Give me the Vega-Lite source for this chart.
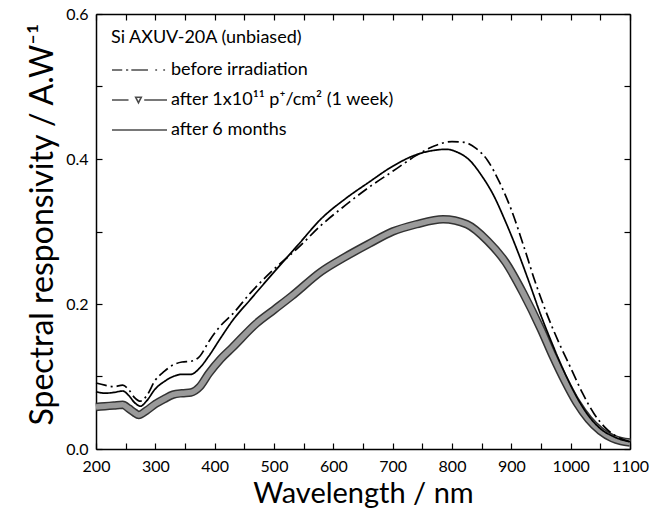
{
  "$schema": "https://vega.github.io/schema/vega-lite/v6.json",
  "width": 534,
  "height": 435,
  "autosize": {"type": "none"},
  "padding": {"left": 96, "top": 14, "right": 22, "bottom": 65},
  "background": "white",
  "config": {
    "view": {"stroke": null},
    "font": "Lato",
    "axis": {"grid": false, "domainColor": "black", "domainWidth": 1.5, "tickColor": "black", "tickWidth": 1.2, "labelColor": "black", "titleColor": "black", "labelFont": "Lato", "titleFont": "Lato", "titleFontWeight": "normal", "labelFlush": false, "labelOverlap": false}
  },
  "datasets": {
    "curves": [
      {"s": "before", "nm": 200, "r": 0.091}, {"s": "before", "nm": 215, "r": 0.088}, {"s": "before", "nm": 230, "r": 0.086}, {"s": "before", "nm": 245, "r": 0.088}, {"s": "before", "nm": 255, "r": 0.082}, {"s": "before", "nm": 265, "r": 0.071}, {"s": "before", "nm": 275, "r": 0.066}, {"s": "before", "nm": 285, "r": 0.073}, {"s": "before", "nm": 300, "r": 0.095}, {"s": "before", "nm": 315, "r": 0.107}, {"s": "before", "nm": 330, "r": 0.116}, {"s": "before", "nm": 345, "r": 0.120}, {"s": "before", "nm": 360, "r": 0.121}, {"s": "before", "nm": 375, "r": 0.128}, {"s": "before", "nm": 390, "r": 0.148}, {"s": "before", "nm": 410, "r": 0.170}, {"s": "before", "nm": 430, "r": 0.186}, {"s": "before", "nm": 460, "r": 0.215}, {"s": "before", "nm": 500, "r": 0.248}, {"s": "before", "nm": 540, "r": 0.277}, {"s": "before", "nm": 580, "r": 0.309}, {"s": "before", "nm": 620, "r": 0.336}, {"s": "before", "nm": 660, "r": 0.361}, {"s": "before", "nm": 700, "r": 0.383}, {"s": "before", "nm": 740, "r": 0.405}, {"s": "before", "nm": 770, "r": 0.418}, {"s": "before", "nm": 800, "r": 0.424}, {"s": "before", "nm": 820, "r": 0.423}, {"s": "before", "nm": 840, "r": 0.415}, {"s": "before", "nm": 860, "r": 0.398}, {"s": "before", "nm": 880, "r": 0.368}, {"s": "before", "nm": 900, "r": 0.330}, {"s": "before", "nm": 920, "r": 0.282}, {"s": "before", "nm": 940, "r": 0.231}, {"s": "before", "nm": 960, "r": 0.186}, {"s": "before", "nm": 980, "r": 0.147}, {"s": "before", "nm": 1000, "r": 0.112}, {"s": "before", "nm": 1020, "r": 0.077}, {"s": "before", "nm": 1040, "r": 0.048}, {"s": "before", "nm": 1060, "r": 0.028}, {"s": "before", "nm": 1080, "r": 0.016}, {"s": "before", "nm": 1100, "r": 0.010},
      {"s": "1w", "nm": 200, "r": 0.058}, {"s": "1w", "nm": 215, "r": 0.059}, {"s": "1w", "nm": 230, "r": 0.060}, {"s": "1w", "nm": 245, "r": 0.061}, {"s": "1w", "nm": 255, "r": 0.056}, {"s": "1w", "nm": 265, "r": 0.050}, {"s": "1w", "nm": 272, "r": 0.047}, {"s": "1w", "nm": 285, "r": 0.053}, {"s": "1w", "nm": 300, "r": 0.062}, {"s": "1w", "nm": 315, "r": 0.069}, {"s": "1w", "nm": 330, "r": 0.075}, {"s": "1w", "nm": 345, "r": 0.077}, {"s": "1w", "nm": 360, "r": 0.078}, {"s": "1w", "nm": 375, "r": 0.086}, {"s": "1w", "nm": 390, "r": 0.104}, {"s": "1w", "nm": 410, "r": 0.124}, {"s": "1w", "nm": 430, "r": 0.140}, {"s": "1w", "nm": 470, "r": 0.173}, {"s": "1w", "nm": 500, "r": 0.192}, {"s": "1w", "nm": 530, "r": 0.211}, {"s": "1w", "nm": 580, "r": 0.245}, {"s": "1w", "nm": 620, "r": 0.265}, {"s": "1w", "nm": 660, "r": 0.283}, {"s": "1w", "nm": 700, "r": 0.300}, {"s": "1w", "nm": 740, "r": 0.310}, {"s": "1w", "nm": 785, "r": 0.317}, {"s": "1w", "nm": 825, "r": 0.310}, {"s": "1w", "nm": 860, "r": 0.287}, {"s": "1w", "nm": 890, "r": 0.258}, {"s": "1w", "nm": 920, "r": 0.215}, {"s": "1w", "nm": 950, "r": 0.165}, {"s": "1w", "nm": 970, "r": 0.128}, {"s": "1w", "nm": 990, "r": 0.094}, {"s": "1w", "nm": 1010, "r": 0.064}, {"s": "1w", "nm": 1030, "r": 0.041}, {"s": "1w", "nm": 1050, "r": 0.025}, {"s": "1w", "nm": 1070, "r": 0.015}, {"s": "1w", "nm": 1085, "r": 0.011}, {"s": "1w", "nm": 1100, "r": 0.009},
      {"s": "6m", "nm": 200, "r": 0.079}, {"s": "6m", "nm": 215, "r": 0.077}, {"s": "6m", "nm": 230, "r": 0.078}, {"s": "6m", "nm": 245, "r": 0.080}, {"s": "6m", "nm": 255, "r": 0.074}, {"s": "6m", "nm": 265, "r": 0.064}, {"s": "6m", "nm": 275, "r": 0.059}, {"s": "6m", "nm": 285, "r": 0.066}, {"s": "6m", "nm": 300, "r": 0.083}, {"s": "6m", "nm": 315, "r": 0.093}, {"s": "6m", "nm": 330, "r": 0.100}, {"s": "6m", "nm": 345, "r": 0.103}, {"s": "6m", "nm": 360, "r": 0.103}, {"s": "6m", "nm": 375, "r": 0.112}, {"s": "6m", "nm": 390, "r": 0.128}, {"s": "6m", "nm": 410, "r": 0.153}, {"s": "6m", "nm": 430, "r": 0.177}, {"s": "6m", "nm": 460, "r": 0.206}, {"s": "6m", "nm": 500, "r": 0.244}, {"s": "6m", "nm": 540, "r": 0.281}, {"s": "6m", "nm": 580, "r": 0.318}, {"s": "6m", "nm": 620, "r": 0.345}, {"s": "6m", "nm": 660, "r": 0.368}, {"s": "6m", "nm": 700, "r": 0.390}, {"s": "6m", "nm": 740, "r": 0.406}, {"s": "6m", "nm": 770, "r": 0.412}, {"s": "6m", "nm": 790, "r": 0.4134}, {"s": "6m", "nm": 810, "r": 0.409}, {"s": "6m", "nm": 830, "r": 0.398}, {"s": "6m", "nm": 850, "r": 0.377}, {"s": "6m", "nm": 870, "r": 0.350}, {"s": "6m", "nm": 890, "r": 0.314}, {"s": "6m", "nm": 910, "r": 0.274}, {"s": "6m", "nm": 930, "r": 0.230}, {"s": "6m", "nm": 950, "r": 0.184}, {"s": "6m", "nm": 970, "r": 0.143}, {"s": "6m", "nm": 990, "r": 0.105}, {"s": "6m", "nm": 1010, "r": 0.072}, {"s": "6m", "nm": 1030, "r": 0.046}, {"s": "6m", "nm": 1050, "r": 0.028}, {"s": "6m", "nm": 1070, "r": 0.018}, {"s": "6m", "nm": 1085, "r": 0.013}, {"s": "6m", "nm": 1100, "r": 0.010}
    ]
  },
  "data": {"name": "curves"},
  "resolve": {"axis": {"x": "independent", "y": "independent"}},
  "layer": [
    {
      "transform": [{"filter": "datum.s === '1w'"}],
      "mark": {"type": "line", "interpolate": "monotone", "color": "#333333", "strokeWidth": 8.5},
      "encoding": {
        "x": {"field": "nm", "type": "quantitative", "scale": {"domain": [200, 1100], "nice": false, "zero": false},
          "axis": {"orient": "bottom", "title": "Wavelength / nm", "titleFontSize": 29, "titlePadding": 5,
            "values": [200, 250, 300, 350, 400, 450, 500, 550, 600, 650, 700, 750, 800, 850, 900, 950, 1000, 1050, 1100],
            "format": "d", "labelExpr": "datum.value % 100 === 0 ? datum.label : ''", "labelFontSize": 16,
            "tickSize": -6, "labelPadding": 15}},
        "y": {"field": "r", "type": "quantitative", "scale": {"domain": [0, 0.6], "nice": false, "zero": false},
          "axis": {"orient": "left", "title": "Spectral responsivity / A.W⁻¹", "titleFontSize": 32, "titleY": 210, "titlePadding": 6,
            "values": [0, 0.1, 0.2, 0.3, 0.4, 0.5, 0.6],
            "labelExpr": "round(datum.value * 10) % 2 === 0 ? format(datum.value, '.1f') : ''", "labelFontSize": 16,
            "tickSize": -6, "labelPadding": 14}}
      }
    },
    {
      "transform": [{"filter": "datum.s === '1w'"}],
      "mark": {"type": "line", "interpolate": "monotone", "color": "#9a9a9a", "strokeWidth": 5.5},
      "encoding": {
        "x": {"field": "nm", "type": "quantitative", "scale": {"domain": [200, 1100], "nice": false, "zero": false}, "axis": null},
        "y": {"field": "r", "type": "quantitative", "scale": {"domain": [0, 0.6], "nice": false, "zero": false}, "axis": null}
      }
    },
    {
      "transform": [{"filter": "datum.s !== '1w'"}],
      "mark": {"type": "line", "interpolate": "monotone", "color": "black", "strokeWidth": 1.7},
      "encoding": {
        "x": {"field": "nm", "type": "quantitative", "scale": {"domain": [200, 1100], "nice": false, "zero": false},
          "axis": {"orient": "top", "title": null, "labels": false,
            "values": [200, 250, 300, 350, 400, 450, 500, 550, 600, 650, 700, 750, 800, 850, 900, 950, 1000, 1050, 1100],
            "tickSize": -6}},
        "y": {"field": "r", "type": "quantitative", "scale": {"domain": [0, 0.6], "nice": false, "zero": false},
          "axis": {"orient": "right", "title": null, "labels": false,
            "values": [0, 0.1, 0.2, 0.3, 0.4, 0.5, 0.6],
            "tickSize": -6}},
        "strokeDash": {"field": "s", "type": "nominal", "scale": {"domain": ["before", "6m"], "range": [[11, 4, 2, 4], [1, 0]]}, "legend": null},
        "detail": {"field": "s"}
      }
    },
    {
      "transform": [{"filter": "false"}],
      "mark": {"type": "point", "filled": false, "color": "black", "strokeWidth": 1.5},
      "encoding": {
        "x": {"field": "nm", "type": "quantitative", "scale": {"domain": [200, 1100], "nice": false, "zero": false}, "axis": null},
        "y": {"field": "r", "type": "quantitative", "scale": {"domain": [0, 0.6], "nice": false, "zero": false}, "axis": null},
        "shape": {"field": "s", "type": "nominal",
          "scale": {"domain": ["before", "1w", "6m"], "range": ["M-1,0H-0.27M0,0H0.16M0.38,0H1.57M2.09,0H2.22M2.66,0H2.79", "M-1,0H0.18M0.69,-0.2H1.09L0.89,0.2ZM1.3,0H2.93", "M-1,0H2.93"]},
          "legend": {"orient": "top-left", "offset": 15, "padding": 0, "title": "Si AXUV-20A (unbiased)", "titleLimit": 400,
            "titleFontSize": 18, "titleFontWeight": "normal", "titleColor": "black", "titleFont": "Lato", "titlePadding": 8,
            "labelFontSize": 18, "labelFont": "Lato", "labelColor": "black", "labelLimit": 400, "labelOffset": 30,
            "symbolSize": 784, "symbolStrokeWidth": 1.6, "symbolStrokeColor": "black", "symbolFillColor": "transparent", "rowPadding": 6,
            "labelExpr": "datum.label === 'before' ? 'before irradiation' : datum.label === '1w' ? 'after 1x10¹¹ p⁺/cm² (1 week)' : 'after 6 months'"}}
      }
    }
  ]
}
